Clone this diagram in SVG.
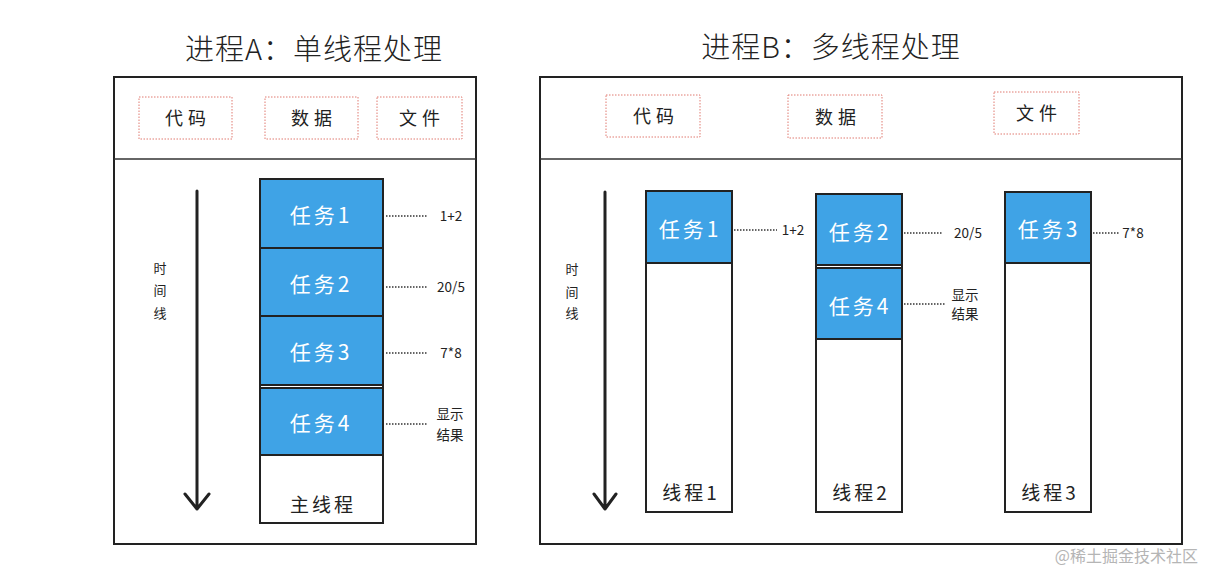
<svg xmlns="http://www.w3.org/2000/svg" width="1216" height="584" viewBox="0 0 1216 584">
<style>
text{font-family:"Noto Sans CJK SC","Noto Sans",sans-serif;fill:#222}
.title{font-size:29px;text-anchor:middle;letter-spacing:1px;font-weight:300}
.panel{fill:#fff;stroke:#222;stroke-width:2}
.div{stroke:#333;stroke-width:1.6}
.res{fill:#fff;stroke:#e07a70;stroke-width:1;stroke-dasharray:1.5 1.5}
.rest{font-size:18px;letter-spacing:5px;text-anchor:middle}
.col{fill:#fff;stroke:#222;stroke-width:2}
.task{fill:#3fa3e6;stroke:#222;stroke-width:2}
.tt{font-size:21px;fill:#fff;text-anchor:middle;letter-spacing:3px}
.ct{font-size:19px;text-anchor:middle;letter-spacing:3px}
.lbl{font-size:13.5px;text-anchor:middle}
.vt{font-size:13px;text-anchor:middle}
.dot{stroke:#333;stroke-width:1.5;stroke-dasharray:1.5 1.5;fill:none}
.arr{stroke:#222;stroke-width:3;fill:none;stroke-linecap:round;stroke-linejoin:round}
</style>
<rect width="1216" height="584" fill="#fff"/>

<!-- Process A -->
<g id="processA">
<text class="title" x="314" y="60">进程A：单线程处理</text>
<rect class="panel" x="114" y="77" width="362" height="467"/>
<line class="div" x1="114" y1="159" x2="476" y2="159"/>
</g>
<g id="A-code"><rect class="res" x="139" y="97" width="93" height="42"/><text class="rest" x="188" y="125">代码</text></g>
<g id="A-data"><rect class="res" x="265" y="97" width="93" height="42"/><text class="rest" x="314" y="125">数据</text></g>
<g id="A-file"><rect class="res" x="377" y="97" width="85" height="42"/><text class="rest" x="422" y="125">文件</text></g>
<g id="A-timeline">
<text class="vt" x="160" y="273">时</text><text class="vt" x="160" y="295">间</text><text class="vt" x="160" y="318">线</text>
</g>
<g id="A-mainthread">
<rect class="col" x="260" y="179" width="123" height="344"/>
<text class="ct" x="323" y="512">主线程</text>
</g>
<g id="A-task1"><rect class="task" x="260" y="179" width="123" height="69"/><text class="tt" x="321" y="223">任务1</text></g>
<g id="A-task2"><rect class="task" x="260" y="248" width="123" height="68"/><text class="tt" x="321" y="292">任务2</text></g>
<g id="A-task3"><rect class="task" x="260" y="316" width="123" height="69"/><text class="tt" x="321" y="360">任务3</text></g>
<g id="A-task4"><rect class="task" x="260" y="388" width="123" height="67"/><text class="tt" x="321" y="431">任务4</text></g>
<g id="A-labels">
<text class="lbl" x="451" y="221">1+2</text>
<text class="lbl" x="451" y="292">20/5</text>
<text class="lbl" x="451" y="358">7*8</text>
<text class="lbl" x="450" y="419">显示</text>
<text class="lbl" x="450" y="440">结果</text>
</g>

<!-- Process B -->
<g id="processB">
<text class="title" x="831" y="58">进程B：多线程处理</text>
<rect class="panel" x="540" y="77" width="642" height="467"/>
<line class="div" x1="540" y1="159" x2="1182" y2="159"/>
</g>
<g id="B-code"><rect class="res" x="606" y="95" width="94" height="42"/><text class="rest" x="656" y="123">代码</text></g>
<g id="B-data"><rect class="res" x="788" y="95" width="94" height="43"/><text class="rest" x="838" y="124">数据</text></g>
<g id="B-file"><rect class="res" x="994" y="92" width="85" height="42"/><text class="rest" x="1039" y="120">文件</text></g>
<g id="B-timeline">
<text class="vt" x="572" y="274">时</text><text class="vt" x="572" y="297">间</text><text class="vt" x="572" y="318">线</text>
</g>
<g id="B-thread1">
<rect class="col" x="646" y="191" width="86" height="321"/>
<text class="ct" x="691" y="500">线程1</text>
</g>
<g id="B-thread2">
<rect class="col" x="816" y="194" width="86" height="318"/>
<text class="ct" x="861" y="500">线程2</text>
</g>
<g id="B-thread3">
<rect class="col" x="1005" y="192" width="86" height="320"/>
<text class="ct" x="1050" y="500">线程3</text>
</g>
<g id="B-task1"><rect class="task" x="646" y="191" width="86" height="72"/><text class="tt" x="690" y="237">任务1</text></g>
<g id="B-task2"><rect class="task" x="816" y="194" width="86" height="71"/><text class="tt" x="860" y="240">任务2</text></g>
<g id="B-task4"><rect class="task" x="816" y="268" width="86" height="71"/><text class="tt" x="860" y="314">任务4</text></g>
<g id="B-task3"><rect class="task" x="1005" y="192" width="86" height="71"/><text class="tt" x="1049" y="237">任务3</text></g>
<g id="B-labels">
<text class="lbl" x="793" y="235">1+2</text>
<text class="lbl" x="968" y="238">20/5</text>
<text class="lbl" x="965" y="300">显示</text>
<text class="lbl" x="965" y="319">结果</text>
<text class="lbl" x="1133" y="238">7*8</text>
</g>

<g id="connectors">
<line class="dot" x1="386" y1="216" x2="427" y2="216"/>
<line class="dot" x1="386" y1="287" x2="427" y2="287"/>
<line class="dot" x1="386" y1="353" x2="427" y2="353"/>
<line class="dot" x1="386" y1="424" x2="427" y2="424"/>
<line class="dot" x1="734" y1="230" x2="777" y2="230"/>
<line class="dot" x1="904" y1="233" x2="943" y2="233"/>
<line class="dot" x1="904" y1="304" x2="945" y2="304"/>
<line class="dot" x1="1093" y1="233" x2="1119" y2="233"/>
<path class="arr" d="M197 191 L197 509 M185 494 L197 509 L209 494"/>
<path class="arr" d="M605 192 L605 509 M594 494 L605 509 L616 494"/>
</g>

<text x="1198" y="562" style="font-size:16px;fill:#b5b5b5;text-anchor:end">@稀土掘金技术社区</text>
</svg>
